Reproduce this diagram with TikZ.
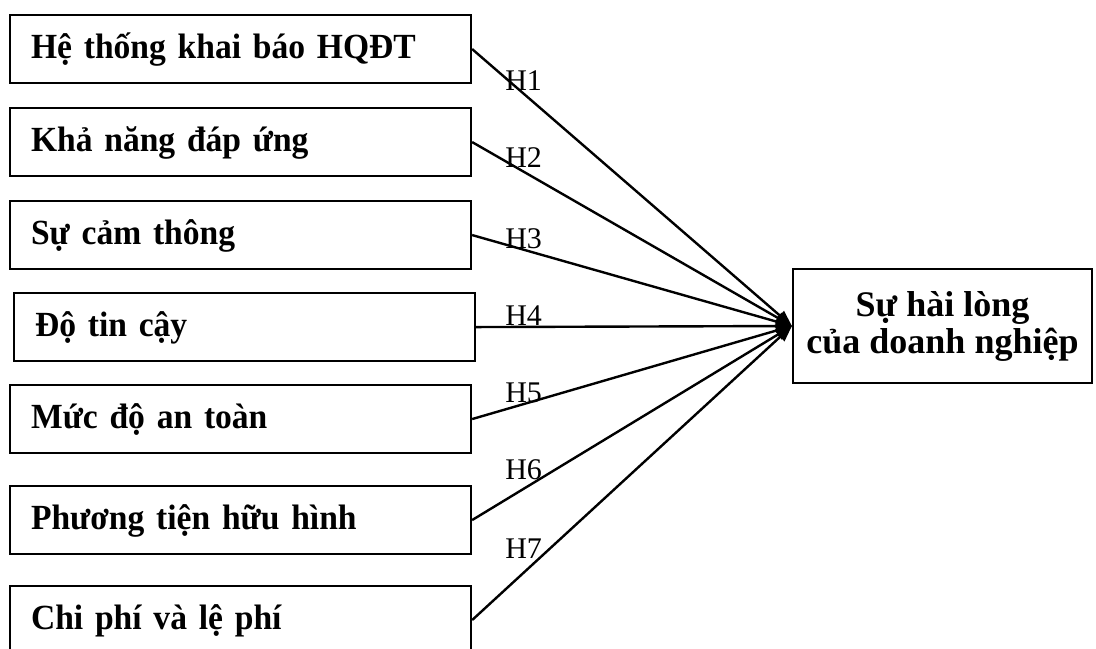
\documentclass[tikz,border=0pt]{standalone}
\usepackage{fontspec}
\setmainfont{Liberation Serif}
\newfontfamily\factorfont{Liberation Serif}[FakeStretch=0.95]
\usetikzlibrary{arrows.meta}
\begin{document}
\begin{tikzpicture}[x=0.75pt,y=-0.75pt,
  factor/.style={draw,line width=1.6pt,anchor=north west,minimum width=345.75pt,minimum height=51pt,
    inner xsep=15.75pt,text width=314.25pt,align=left,text height=19pt,text depth=5pt,
    font=\factorfont\bfseries\fontsize{26.5}{28}\selectfont},
  result/.style={draw,line width=1.6pt,minimum width=224.25pt,minimum height=85.5pt,align=center,
    font=\bfseries\fontsize{27}{27.75}\selectfont},
  hyp/.style={anchor=base west,inner sep=0pt,font=\fontsize{22.5}{27}\selectfont},
  link/.style={line width=1.8pt,-{Triangle[length=12pt,width=9pt]}}]
\useasboundingbox (0,0) rectangle (1096,649);
% factors
\node[factor] (sys) at (9,14) {Hệ thống khai báo HQĐT};
\node[factor] (resp) at (9,107) {Khả năng đáp ứng};
\node[factor] (emp) at (9,200) {Sự cảm thông};
\node[factor] (rel) at (13,292) {Độ tin cậy};
\node[factor] (safe) at (9,384) {Mức độ an toàn};
\node[factor] (tang) at (9,485) {Phương tiện hữu hình};
\node[factor] (cost) at (9,585) {Chi phí và lệ phí};
% outcome
\node[result] (sat) at (942.5,326) {Sự hài lòng\\của doanh nghiệp};
% hypotheses
\node[hyp] (h1) at (505,91) {H1};
\node[hyp] (h2) at (505,168) {H2};
\node[hyp] (h3) at (505,248) {H3};
\node[hyp] (h4) at (505,325) {H4};
\node[hyp] (h5) at (505,402) {H5};
\node[hyp] (h6) at (505,479) {H6};
\node[hyp] (h7) at (505,558) {H7};
\draw[link] (sys.east) -- (sat.west);
\draw[link] (resp.east) -- (sat.west);
\draw[link] (emp.east) -- (sat.west);
\draw[link] (rel.east) -- (sat.west);
\draw[link] (safe.east) -- (sat.west);
\draw[link] (tang.east) -- (sat.west);
\draw[link] (cost.east) -- (sat.west);
\end{tikzpicture}
\end{document}
